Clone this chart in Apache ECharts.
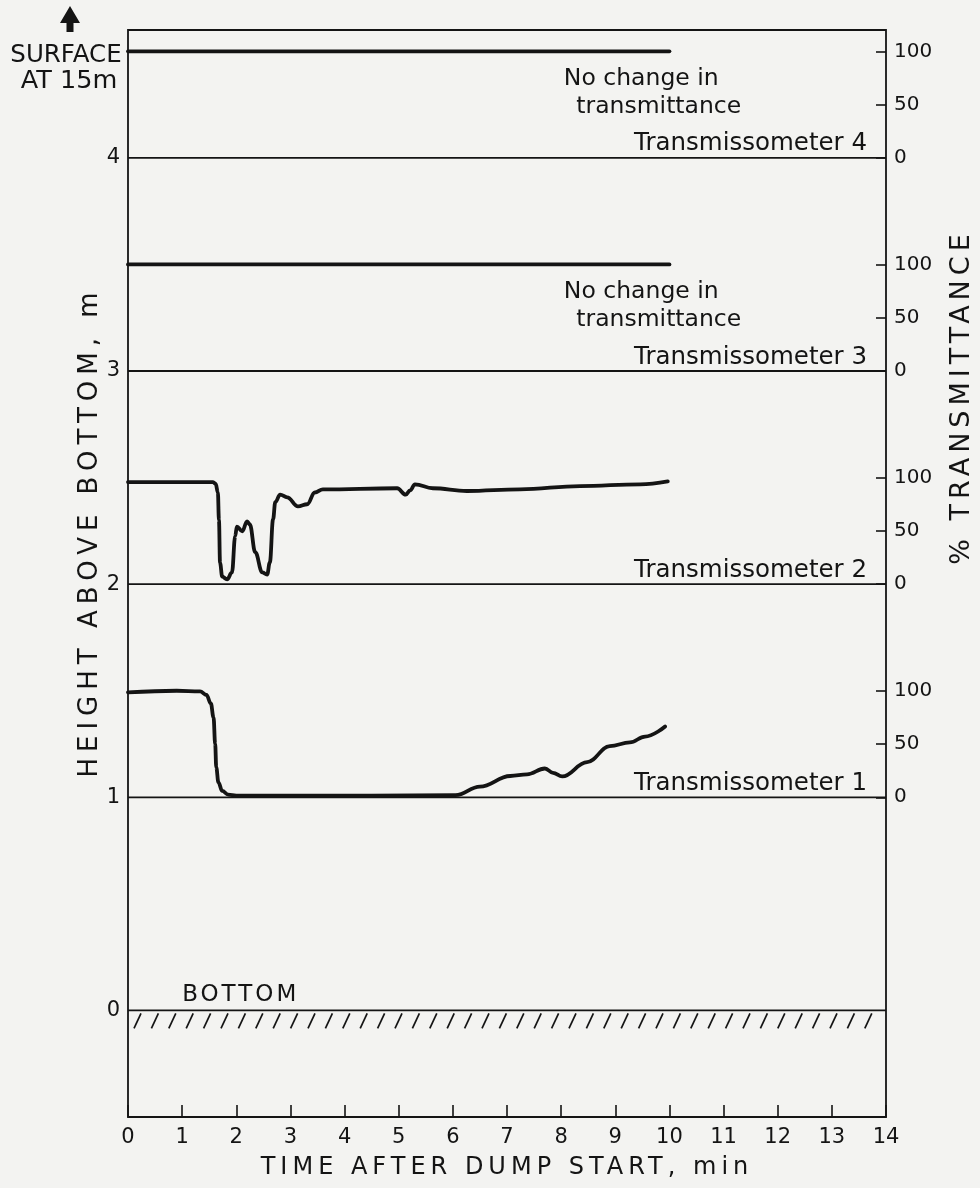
<!DOCTYPE html>
<html>
<head>
<meta charset="utf-8">
<style>
  html, body { margin: 0; padding: 0; background: #f3f3f1; }
  #chart { width: 980px; height: 1188px; }
</style>
<script src="https://cdn.jsdelivr.net/npm/echarts@6/dist/echarts.min.js"></script>
</head>
<body>
<div id="chart"></div>
<script>
// Transmittance records (%), time in minutes after the dump started
const T1_TIME = [0, 0.9, 1.33, 1.45, 1.53, 1.58, 1.61, 1.63, 1.67, 1.74, 1.85, 2.0, 2.44, 3.2, 4.5, 6.05, 6.5, 7.06, 7.37, 7.7, 7.85, 8.02, 8.48, 8.9, 9.27, 9.55, 9.92];
const T1_PCT  = [98.5, 100, 99.4, 96, 88, 75, 50, 28, 14, 6, 2.5, 1.5, 1.5, 1.5, 1.5, 2, 10, 20, 21.5, 27, 23, 19.6, 33, 48, 51.5, 57, 66.5];

const T2_TIME = [0, 1.57, 1.62, 1.66, 1.68, 1.70, 1.74, 1.83, 1.92, 1.98, 2.01, 2.11, 2.2, 2.25, 2.35, 2.48, 2.57, 2.62, 2.68, 2.72, 2.81, 2.94, 3.14, 3.31, 3.45, 3.6, 4.97, 5.13, 5.21, 5.3, 5.63, 6.26, 7.24, 8.35, 9.46, 9.97];
const T2_PCT  = [95.8, 95.8, 94, 86, 60, 20, 7, 4.5, 11, 45, 54, 49.6, 59, 56, 30, 11, 9, 20.5, 61, 77, 84, 81.5, 73, 75, 86, 89, 90, 84, 88, 93.7, 90, 87.4, 89, 92, 93.7, 96.5];

const T3_TIME = [0, 10];
const T3_PCT  = [100, 100];

const T4_TIME = [0, 10];
const T4_PCT  = [100, 100];

// Instrument heights above the bottom (m) and axis ticks
const LEVELS = [0, 1, 2, 3, 4];
const HEIGHT_LABELS = [0, 1, 2, 3, 4];
const PCT_TICKS = [0, 50, 100];
const INSTRUMENTS = [
  { name: 'Transmissometer 1', height: 1, time: T1_TIME, pct: T1_PCT, note: false },
  { name: 'Transmissometer 2', height: 2, time: T2_TIME, pct: T2_PCT, note: false },
  { name: 'Transmissometer 3', height: 3, time: T3_TIME, pct: T3_PCT, note: true },
  { name: 'Transmissometer 4', height: 4, time: T4_TIME, pct: T4_PCT, note: true }
];

const FONT = 'DejaVu Sans';
const INK = '#141414';

// Hand-lettered captions are widely spaced: extra tracking (px) keyed by font size
const TRACKING = { '26': 6, '24': 5, '27': 5, '23': 3 };
(function () {
  const proto = CanvasRenderingContext2D.prototype;
  if (!('letterSpacing' in proto)) return;
  const fill = proto.fillText;
  proto.fillText = function (text, x, y, maxWidth) {
    const m = /(\d+(?:\.\d+)?)px/.exec(this.font);
    const sp = m ? TRACKING[m[1]] : undefined;
    const prev = this.letterSpacing;
    this.letterSpacing = sp ? sp + 'px' : '0px';
    const r = maxWidth === undefined ? fill.call(this, text, x, y) : fill.call(this, text, x, y, maxWidth);
    this.letterSpacing = prev;
    return r;
  };
})();

// Main frame geometry (pixels) and height range (m)
const G = { left: 128, right: 94, top: 30, bottom: 71 };
const H_MIN = -0.5, H_MAX = 4.6, SPAN = 0.5; // 0–100 % occupies 0.5 m above each instrument
const plotH = 1188 - G.top - G.bottom;
const pxPerM = plotH / (H_MAX - H_MIN);

const grids = [Object.assign({ show: true, borderColor: INK, borderWidth: 1.8, backgroundColor: 'transparent',
                               outerBoundsMode: 'none', containLabel: false }, G)];
const xAxes = [{
  gridIndex: 0, type: 'value', min: 0, max: 14, interval: 1,
  axisLine: { show: false, onZero: false },
  axisTick: { show: true, inside: true, length: 12, lineStyle: { color: INK, width: 1.6 } },
  axisLabel: { color: INK, fontFamily: FONT, fontSize: 21, margin: 10 },
  splitLine: { show: false },
  name: 'TIME AFTER DUMP START, min', nameLocation: 'middle', nameGap: 39,
  nameTextStyle: { color: INK, fontFamily: FONT, fontSize: 24 }
}];
const yAxes = [{
  gridIndex: 0, type: 'value', min: H_MIN, max: H_MAX, interval: 0.5,
  axisLine: { show: false, onZero: false }, axisTick: { show: false }, splitLine: { show: false },
  axisLabel: {
    color: INK, fontFamily: FONT, fontSize: 21, margin: 8,
    formatter: v => (HEIGHT_LABELS.includes(v) ? String(v) : '')
  }
}];

const series = [];

// Zero-transmittance reference lines across the frame, and the bottom line
series.push({
  type: 'custom', xAxisIndex: 0, yAxisIndex: 0, silent: true, clip: false,
  data: LEVELS.map(h => [0, h]),
  renderItem: (params, api) => {
    const cs = params.coordSys;
    const p = api.coord([0, api.value(1)]);
    return { type: 'line', shape: { x1: cs.x, y1: p[1], x2: cs.x + cs.width, y2: p[1] },
             style: { stroke: INK, lineWidth: 1.8 } };
  }
});

// Hatching under the bottom line
series.push({
  type: 'custom', xAxisIndex: 0, yAxisIndex: 0, silent: true, clip: false,
  data: [[0, 0]],
  renderItem: (params, api) => {
    const cs = params.coordSys;
    const p = api.coord([0, 0]);
    const children = [];
    for (let x = cs.x + 13; x <= cs.x + cs.width - 2; x += 17.4) {
      children.push({ type: 'line', shape: { x1: x, y1: p[1] + 3, x2: x - 7, y2: p[1] + 18 },
                      style: { stroke: INK, lineWidth: 1.7 } });
    }
    return { type: 'group', children };
  }
});

// One overlay panel per instrument: 0–100 % scale on the right, spanning 0.5 m
INSTRUMENTS.forEach((ins, i) => {
  const idx = i + 1;
  const top = G.top + (H_MAX - (ins.height + SPAN)) * pxPerM;
  grids.push({ left: G.left, right: G.right, top: top, height: SPAN * pxPerM,
               outerBoundsMode: 'none', containLabel: false });
  xAxes.push({ gridIndex: idx, type: 'value', min: 0, max: 14, show: false });
  yAxes.push({
    gridIndex: idx, type: 'value', min: 0, max: 100, interval: 50, position: 'right',
    axisLine: { show: false, onZero: false },
    axisTick: { show: true, inside: true, length: 10, lineStyle: { color: INK, width: 1.6 } },
    axisLabel: { color: INK, fontFamily: FONT, fontSize: 20, margin: 8,
                 formatter: v => (PCT_TICKS.includes(v) ? String(v) : '') },
    splitLine: { show: false }
  });
  series.push({
    type: 'line', name: ins.name, xAxisIndex: idx, yAxisIndex: idx,
    data: ins.time.map((t, k) => [t, ins.pct[k]]),
    showSymbol: false, smooth: 0.4, smoothMonotone: 'x', clip: false,
    lineStyle: { color: INK, width: 3.8, cap: 'round', join: 'round' },
    silent: true, animation: false
  });
});

const chart = echarts.init(document.getElementById('chart'), null, { renderer: 'canvas' });
chart.setOption({
  backgroundColor: '#f3f3f1',
  animation: false,
  grid: grids, xAxis: xAxes, yAxis: yAxes, series: series
});

// Text annotations positioned in data coordinates (minutes, metres)
const toPx = (t, h) => chart.convertToPixel({ gridIndex: 0 }, [t, h]);
const textStyle = (extra) => Object.assign({ fill: INK, fontFamily: FONT, fontSize: 21, textVerticalAlign: 'middle' }, extra);
const graphics = [];
INSTRUMENTS.forEach(ins => {
  const lab = toPx(13.65, ins.height + 0.065);
  graphics.push({ type: 'text', x: lab[0], y: lab[1], style: textStyle({ text: ins.name, textAlign: 'right', fontSize: 24.5 }) });
  if (ins.note) {
    const a = toPx(8.05, ins.height + 0.37);
    const b = toPx(8.28, ins.height + 0.24);
    graphics.push({ type: 'text', x: a[0], y: a[1], style: textStyle({ text: 'No change in', textAlign: 'left', fontSize: 23.5 }) });
    graphics.push({ type: 'text', x: b[0], y: b[1], style: textStyle({ text: 'transmittance', textAlign: 'left', fontSize: 23.5 }) });
  }
});
const bottomLab = toPx(1.0, 0.072);
graphics.push({ type: 'text', x: bottomLab[0], y: bottomLab[1], style: textStyle({ text: 'BOTTOM', textAlign: 'left', fontSize: 23 }) });

// "Surface" marker above the height scale
graphics.push({ type: 'text', x: 66, y: 56, style: textStyle({ text: 'SURFACE', textAlign: 'center', fontSize: 24.5 }) });
graphics.push({ type: 'text', x: 69, y: 81, style: textStyle({ text: 'AT 15m', textAlign: 'center', fontSize: 25.5 }) });
graphics.push({ type: 'polygon', shape: { points: [[70, 6], [60, 23], [66.5, 23], [66.5, 32], [73.5, 32], [73.5, 23], [80, 23]] },
                style: { fill: INK } });

// Vertical scale titles
graphics.push({ type: 'text', x: 90, y: 532, rotation: Math.PI / 2,
                style: textStyle({ text: 'HEIGHT ABOVE BOTTOM, m', textAlign: 'center', fontSize: 26 }) });
graphics.push({ type: 'text', x: 962, y: 397, rotation: Math.PI / 2,
                style: textStyle({ text: '% TRANSMITTANCE', textAlign: 'center', fontSize: 27 }) });

chart.setOption({ graphic: graphics });
</script>
</body>
</html>
